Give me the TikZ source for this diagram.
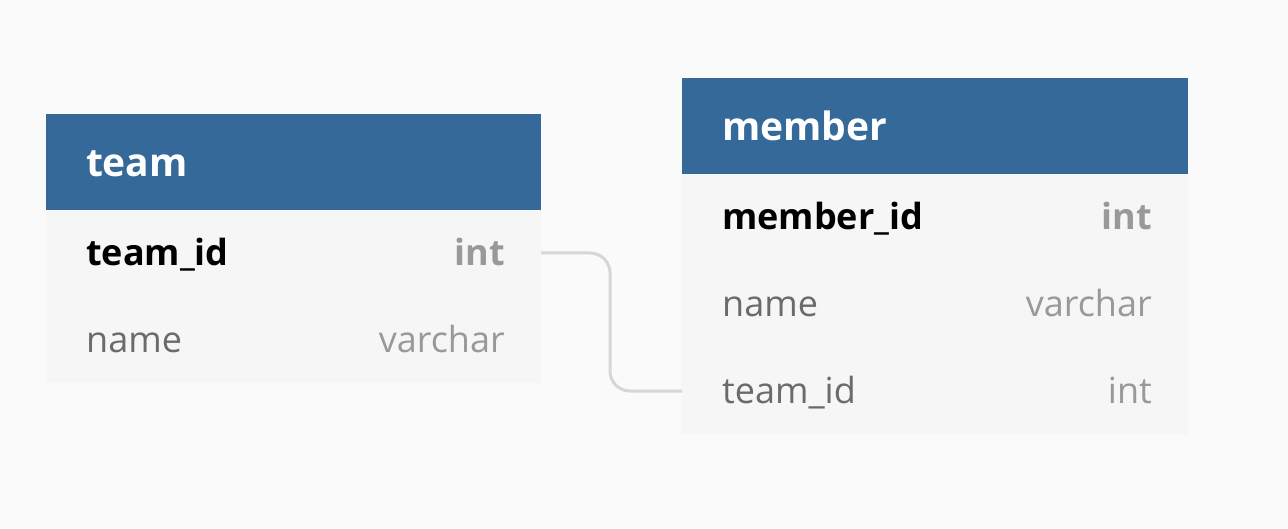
\documentclass[tikz,border=0pt]{standalone}
\usepackage{fontspec}
\setmainfont{Open Sans}
\usetikzlibrary{positioning}
\definecolor{headblue}{HTML}{34699A}
\definecolor{rowbg}{HTML}{F6F6F6}
\definecolor{pagebg}{HTML}{FAFAFA}
\definecolor{namegray}{HTML}{6B6B6B}
\definecolor{typegray}{HTML}{999999}
\definecolor{linkgray}{HTML}{D6D6D6}
\begin{document}
\begin{tikzpicture}[x=1pt,y=1pt,
    head/.style={fill=headblue,draw=none,inner sep=0pt},
    body/.style={fill=rowbg,draw=none,inner sep=0pt},
    title/.style={text=white,font=\fontsize{39}{41}\selectfont\bfseries,inner sep=0pt,text height=30pt,text depth=0.6pt},
    field/.style={text=namegray,font=\fontsize{36}{38}\selectfont,inner sep=0pt,text height=27pt,text depth=1.6pt},
    key/.style={field,text=black,font=\fontsize{36}{38}\selectfont\bfseries},
    type/.style={field,text=typegray},
    keytype/.style={type,font=\fontsize{36}{38}\selectfont\bfseries},
    link/.style={draw=linkgray,line width=3pt,rounded corners=20pt}]
  \fill[pagebg] (0,0) rectangle (1288,528);
  \useasboundingbox (0,0) rectangle (1288,528);
  % team
  \node[body,minimum width=495pt,minimum height=173pt] (team-body) at (293.5,231.5) {};
  \node[head,minimum width=495pt,minimum height=96pt] (team) at (293.5,366) {};
  \node[title,right=40pt of team.west] (team-title) {team};
  \coordinate (team-id) at (541,275);
  \node[key,anchor=west] (team-id-name) at (86,275) {team\_id};
  \node[keytype,anchor=east] (team-id-type) at (505,275) {int};
  \node[field,anchor=west] (team-name) at (86,188) {name};
  \node[type,anchor=east] (team-name-type) at (505,188) {varchar};
  % member
  \node[body,minimum width=506pt,minimum height=260pt] (member-body) at (935,224) {};
  \node[head,minimum width=506pt,minimum height=96pt] (member) at (935,402) {};
  \node[title,right=40pt of member.west] (member-title) {member};
  \node[key,anchor=west] (member-id) at (722,311) {member\_id};
  \node[keytype,anchor=east] (member-id-type) at (1152,311) {int};
  \node[field,anchor=west] (member-name) at (722,224) {name};
  \node[type,anchor=east] (member-name-type) at (1152,224) {varchar};
  \coordinate (member-team) at (682,137);
  \node[field,anchor=west] (member-team-id) at (722,137) {team\_id};
  \node[type,anchor=east] (member-team-type) at (1152,137) {int};
  % relation
  \draw[link] (team-id) -- (610,275) -- (610,137) -- (member-team);
\end{tikzpicture}
\end{document}
